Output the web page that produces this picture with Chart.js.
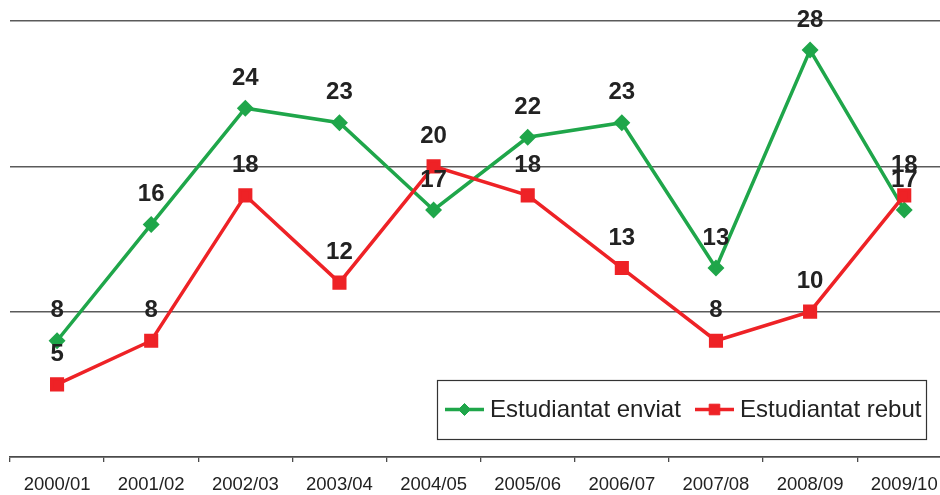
<!DOCTYPE html>
<html>
<head>
<meta charset="utf-8">
<script src="https://cdn.jsdelivr.net/npm/chart.js@4/dist/chart.umd.min.js"></script>
<style>
  html, body { margin: 0; padding: 0; background: #fff; overflow: hidden; }
  #wrap { position: relative; width: 940px; height: 495px; }
</style>
</head>
<body>
<div id="wrap"><canvas id="c"></canvas></div>
<script>
// Academic years
const categories = ['2000/01', '2001/02', '2002/03', '2003/04', '2004/05',
                    '2005/06', '2006/07', '2007/08', '2008/09', '2009/10'];
// Students sent abroad / received
const enviat = [8, 16, 24, 23, 17, 22, 23, 13, 28, 17];
const rebut  = [5, 8, 18, 12, 20, 18, 13, 8, 10, 18];
// Horizontal grid steps
const yMin = 0, yMax = 30, yStep = 10;
// How many category slots fit across the visible plot (the last slot runs past the edge)
const visibleSlots = 9.88;

const GREEN = '#1fa64a';
const RED = '#ee2226';
const FONT = '"Liberation Sans", Arial, Helvetica, sans-serif';

// Bold value above every point
const valueLabels = {
  id: 'valueLabels',
  afterDatasetsDraw(chart) {
    const ctx = chart.ctx;
    ctx.save();
    ctx.font = 'bold 24px ' + FONT;
    ctx.fillStyle = '#222';
    ctx.textAlign = 'center';
    ctx.textBaseline = 'middle';
    [1, 0].forEach(i => {
      const meta = chart.getDatasetMeta(i);
      const data = chart.data.datasets[i].data;
      meta.data.forEach((pt, j) => {
        ctx.fillText(String(data[j]), pt.x, pt.y - 30);
      });
    });
    ctx.restore();
  }
};

// Boxed legend sitting inside the plot, lower right
const boxLegend = {
  id: 'boxLegend',
  afterDraw(chart) {
    const ctx = chart.ctx;
    const box = { x: 437, y: 380, w: 489, h: 59 };
    const cy = box.y + box.h / 2;
    ctx.save();
    ctx.fillStyle = '#fff';
    ctx.fillRect(box.x, box.y, box.w, box.h);
    ctx.strokeStyle = '#333';
    ctx.lineWidth = 1.2;
    ctx.strokeRect(box.x + 0.5, box.y + 0.5, box.w, box.h);

    const items = [
      { x: 445, ds: chart.data.datasets[0] },
      { x: 695, ds: chart.data.datasets[1] }
    ];
    items.forEach(it => {
      const ds = it.ds;
      const px = it.x + 19.5;
      ctx.strokeStyle = ds.borderColor;
      ctx.lineWidth = 3.5;
      ctx.beginPath();
      ctx.moveTo(it.x, cy);
      ctx.lineTo(it.x + 39, cy);
      ctx.stroke();
      ctx.fillStyle = ds.pointBackgroundColor;
      ctx.strokeStyle = ds.pointBorderColor;
      ctx.lineWidth = 1;
      ctx.beginPath();
      if (ds.pointStyle === 'rectRot') {
        const r = ds.pointRadius;
        ctx.moveTo(px, cy - r); ctx.lineTo(px + r, cy); ctx.lineTo(px, cy + r); ctx.lineTo(px - r, cy);
      } else {
        const s = Math.SQRT1_2 * ds.pointRadius;
        ctx.rect(px - s, cy - s, 2 * s, 2 * s);
      }
      ctx.closePath();
      ctx.fill();
      ctx.stroke();
      ctx.fillStyle = '#222';
      ctx.font = '24px ' + FONT;
      ctx.textAlign = 'left';
      ctx.textBaseline = 'middle';
      ctx.fillText(ds.label, it.x + 45, cy + 1);
    });
    ctx.restore();
  }
};

new Chart(document.getElementById('c'), {
  type: 'line',
  data: {
    labels: categories,
    datasets: [
      {
        label: 'Estudiantat enviat',
        data: enviat,
        borderColor: GREEN,
        backgroundColor: GREEN,
        pointBackgroundColor: GREEN,
        pointBorderColor: GREEN,
        pointStyle: 'rectRot',
        pointRadius: 6,
        borderWidth: 3.5,
        tension: 0,
        order: 2,
        clip: false
      },
      {
        label: 'Estudiantat rebut',
        data: rebut,
        borderColor: RED,
        backgroundColor: RED,
        pointBackgroundColor: RED,
        pointBorderColor: RED,
        pointStyle: 'rect',
        pointRadius: 7.5,
        borderWidth: 3.5,
        tension: 0,
        order: 1,
        clip: false
      }
    ]
  },
  options: {
    responsive: true,
    maintainAspectRatio: false,
    animation: false,
    devicePixelRatio: 1,
    layout: { autoPadding: false, padding: { left: 10, top: 21, right: 0, bottom: 0 } },
    plugins: { legend: { display: false }, tooltip: { enabled: false } },
    scales: {
      x: {
        offset: true,
        grid: { offset: true, drawOnChartArea: false, drawTicks: true, tickLength: 5, color: '#4a4a4a', lineWidth: 1.3 },
        border: { display: true, color: '#4a4a4a', width: 1.5 },
        ticks: { color: '#222', font: { family: FONT, size: 18.5 }, padding: 12, maxRotation: 0, autoSkip: false },
        afterFit(s) {
          s.height = 38;
          // edge labels may touch the canvas border; keep the plot full width
          s.paddingLeft = 0;
          s.paddingRight = 0;
        },
        // the last slot extends past the right edge of the plot
        afterBuildTicks(s) { s._valueRange = visibleSlots; }
      },
      y: {
        min: yMin,
        max: yMax,
        ticks: { display: false, stepSize: yStep },
        grid: { color: '#5a5a5a', lineWidth: 1.4, drawTicks: false },
        border: { display: false },
        afterFit(s) { s.width = 0; }
      }
    }
  },
  plugins: [valueLabels, boxLegend]
});
</script>
</body>
</html>
